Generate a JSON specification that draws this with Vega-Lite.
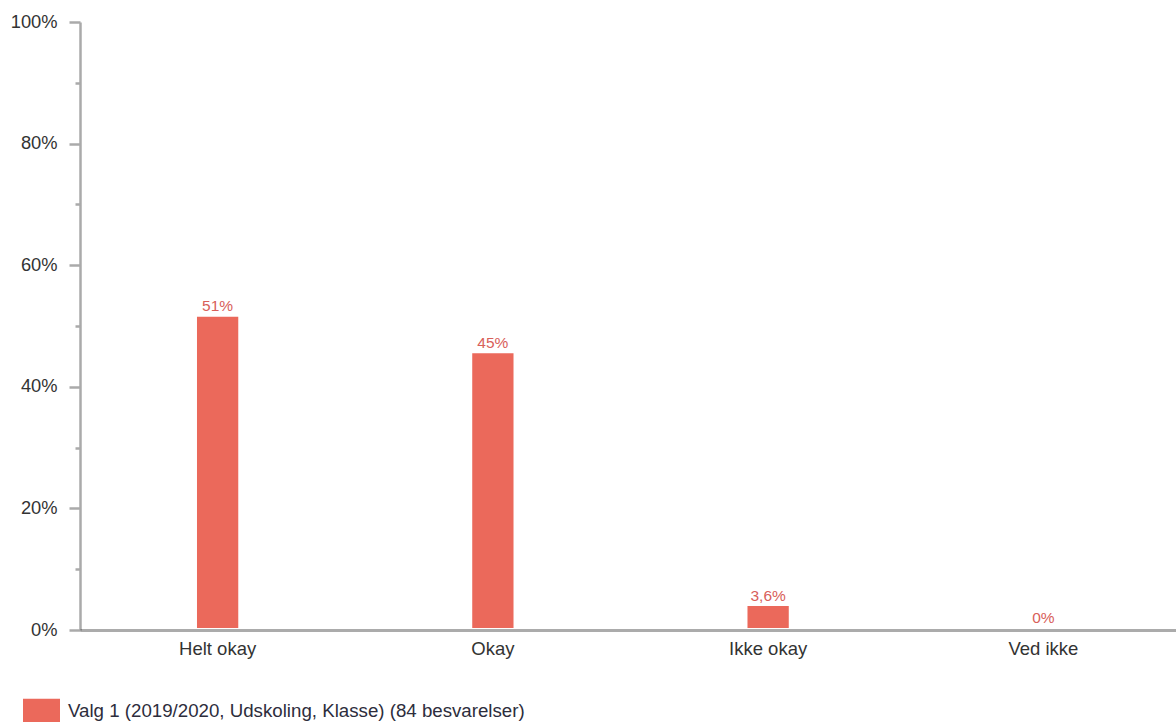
{
  "$schema": "https://vega.github.io/schema/vega-lite/v6.json",
  "width": 1096,
  "height": 608,
  "autosize": {"type": "none"},
  "padding": {"left": 80, "top": 22, "right": 0, "bottom": 92},
  "background": "white",
  "config": {
    "font": "Liberation Sans",
    "view": {"stroke": null}
  },
  "data": {
    "values": [
      {"svar": "Helt okay", "andel": 0.512, "label": "51%", "serie": "Valg 1 (2019/2020, Udskoling, Klasse) (84 besvarelser)"},
      {"svar": "Okay", "andel": 0.452, "label": "45%", "serie": "Valg 1 (2019/2020, Udskoling, Klasse) (84 besvarelser)"},
      {"svar": "Ikke okay", "andel": 0.036, "label": "3,6%", "serie": "Valg 1 (2019/2020, Udskoling, Klasse) (84 besvarelser)"},
      {"svar": "Ved ikke", "andel": 0, "label": "0%", "serie": "Valg 1 (2019/2020, Udskoling, Klasse) (84 besvarelser)"}
    ]
  },
  "encoding": {
    "x": {
      "field": "svar",
      "type": "nominal",
      "sort": null,
      "scale": {"range": [0, 1101], "paddingInner": 0, "paddingOuter": 0},
      "axis": {
        "title": null,
        "labelAngle": 0,
        "labelFontSize": 18.5,
        "labelColor": "#333333",
        "labelPadding": 9,
        "ticks": false,
        "domainColor": "#000000",
        "domainOpacity": 0.33,
        "domainWidth": 3,
        "zindex": 1
      }
    }
  },
  "layer": [
    {
      "mark": {"type": "bar", "color": "#EB695B", "width": {"band": 0.15}, "yOffset": -2, "y2Offset": 1},
      "encoding": {
        "y": {
          "field": "andel",
          "type": "quantitative",
          "scale": {"domain": [0, 1], "nice": false},
          "axis": {
            "title": null,
            "format": ".0%",
            "values": [0, 0.2, 0.4, 0.6, 0.8, 1],
            "grid": false,
            "labelFontSize": 18.3,
            "labelColor": "#333333",
            "labelPadding": 12,
            "tickSize": 11,
            "tickWidth": 2.5,
            "tickColor": "#aaaaaa",
            "domainColor": "#aaaaaa",
            "domainWidth": 2.5
          }
        },
        "color": {
          "field": "serie",
          "type": "nominal",
          "scale": {"range": ["#EB695B"]},
          "legend": {
            "title": null,
            "orient": "none",
            "legendX": -57,
            "legendY": 670,
            "symbolType": "M-1,-0.64H1V0.64H-1Z",
            "symbolSize": 1369,
            "symbolStrokeWidth": 0,
            "symbolOpacity": 1,
            "labelFontSize": 18.7,
            "labelColor": "#2d2d3c",
            "labelOffset": 8,
            "labelLimit": 800,
            "padding": 0
          }
        }
      }
    },
    {
      "mark": {"type": "text", "fontSize": 15.5, "color": "#D8605A", "baseline": "alphabetic", "dy": -7.5},
      "encoding": {
        "y": {
          "field": "andel",
          "type": "quantitative",
          "axis": {
            "title": null,
            "orient": "left",
            "values": [0.1, 0.3, 0.5, 0.7, 0.9],
            "labels": false,
            "domain": false,
            "grid": false,
            "tickSize": 5,
            "tickWidth": 2.5,
            "tickColor": "#aaaaaa"
          }
        },
        "text": {"field": "label", "type": "nominal"}
      }
    }
  ],
  "resolve": {"axis": {"y": "independent"}}
}
